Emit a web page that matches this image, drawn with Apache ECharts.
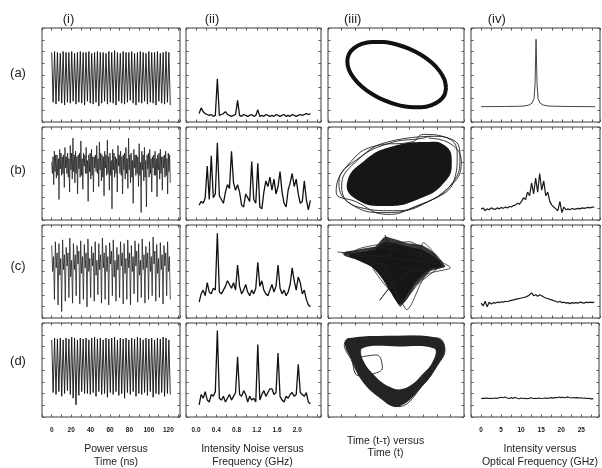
<!DOCTYPE html>
<html><head><meta charset="utf-8">
<script src="https://cdn.jsdelivr.net/npm/echarts@6/dist/echarts.min.js"></script>
<style>html,body{margin:0;padding:0;background:#fff}#c{width:602px;height:468px;will-change:transform}</style>
</head><body><div id="c"></div>
<script>
// ---------- column headers / row labels / titles ----------
const colHeads = ['(i)', '(ii)', '(iii)', '(iv)'];
const rowHeads = ['(a)', '(b)', '(c)', '(d)'];
const colTitles = [
  ['Power versus', 'Time (ns)'],
  ['Intensity Noise versus', 'Frequency (GHz)'],
  ['Time (t-τ) versus', 'Time (t)'],
  ['Intensity versus', 'Optical Frequency (GHz)']
];
const timeTicks = [0, 20, 40, 60, 80, 100, 120];
const rfTicks = ['0.0', '0.4', '0.8', '1.2', '1.6', '2.0'];
const optTicks = [0, 5, 10, 15, 20, 25];

// ---------- column (i): power vs time, sampled over 0..122 ns ----------
const timeSpan = 122;
const powA = [74,21,75,19,74,22,73,20,75,18, 74,21,74,20,75,22,73,19,74,21, 75,20,74,18,74,22,75,20,73,19,
  74,21,75,17,74,20,74,22,73,19, 75,21,74,20,76,18,74,22,73,20, 75,19,74,21,74,23,75,20,73,18,
  74,21,75,20,74,22,73,19,75,21, 74,20,74,18,75,22,73,20,74,19, 75,21,74,18];
const powB = [62,50,68,38, 74,52,70,45, 70,48,66,22, 76,55,72,48, 68,50,70,35, 78,56,68,50, 72,46,66,30, 80,54,72,44,
  88,52,70,40, 74,50,68,28, 70,55,72,46, 85,48,66,33, 72,58,70,50, 78,50,64,20, 70,52,72,44, 76,48,68,30,
  68,56,70,52, 80,50,66,36, 84,54,72,42, 70,46,68,26, 74,56,70,48, 86,50,68,32, 72,48,64,12, 76,54,72,46,
  68,50,66,30, 80,58,70,50, 74,48,68,28, 70,54,72,44, 78,50,66,34, 88,54,70,40, 72,46,64,18, 76,56,70,48,
  70,50,68,36, 82,48,62,8, 74,54,70,42, 78,46,64,14, 70,55,72,46, 76,50,66,30, 68,56,70,48, 74,48,66,25,
  70,54,72,44, 76,50,68,32, 68,56,70,46, 74,48,66,28, 72,52,70,40];
const powC = [78,50,66,20, 82,54,70,14, 80,46,64,7, 84,52,68,18, 76,56,70,22, 86,44,62,16, 80,52,68,24, 78,58,72,15,
  83,48,66,20, 79,54,70,12, 85,50,64,22, 77,56,70,18, 82,46,62,25, 80,52,68,16, 86,54,70,20, 78,50,66,14,
  81,58,72,24, 84,44,62,18, 76,52,68,22, 82,56,70,15, 80,48,64,20, 84,54,70,14, 78,50,66,26, 83,56,72,17,
  80,46,62,22, 85,52,68,16, 77,54,70,20, 82,50,66,24, 87,58,72,18, 79,48,64,22, 81,52,68,15, 78,56,70,24,
  82,50,66,20];
const powD = [82,26,84,24,83,27,84,22,82,25, 84,28,83,24,85,20,84,13,82,23, 84,27,83,25,84,25,82,24,84,26,
  85,22,83,27,84,24,82,25,84,21, 83,26,84,24,85,27,82,23,84,25, 83,20,84,26,82,24,84,27,83,22,
  85,25,84,24,82,26,84,23,83,27, 84,21,82,25,84,24,83,26,85,22, 84,25,82,24];

// ---------- column (ii): intensity noise, 0.06 GHz + 0.04 GHz steps ----------
const rfStart = 0.06, rfStep = 0.04;
const rfA = [9,15,11,9,8,7,8,6,7,46, 7,8,9,11,8,7,6,7,8,23, 7,6,8,7,6,7,8,6,7,13,
  6,7,6,8,7,6,7,6,8,7, 6,7,8,6,7,6,8,7,6,7, 8,7,8,9,8,9];
const rfB = [16,20,18,24,58,22,69,24,28,83, 26,22,18,30,38,34,74,40,32,38, 30,16,14,28,24,20,63,22,18,61,
  14,12,30,42,36,46,32,44,28,36, 52,30,18,14,32,40,50,36,44,28, 18,20,42,22,11,21];
const rfC = [17,26,30,24,38,28,26,32,30,91, 28,26,30,34,40,36,32,38,30,57, 34,26,30,36,28,24,30,26,32,60,
  34,40,30,26,24,30,36,28,34,57, 32,26,30,24,28,36,54,40,30,44, 38,26,30,20,14,12];
const rfD = [13,24,20,27,18,16,24,22,27,92, 20,18,22,16,20,24,18,22,26,64, 24,22,28,24,16,22,18,20,16,77,
  18,24,28,22,26,30,30,24,26,68, 22,18,16,22,20,24,26,22,24,56, 26,24,22,26,16,14];

// ---------- column (iii): delay-embedding portraits (t, t-τ), 0..100 units ----------
const ringAx = [86.8,85.6,81.9,76.2,68.65,59.9,50.5,41.1,32.35,24.8,19.1,15.4,14.2,15.4,19.1,24.8,32.35,41.1,50.5,59.9,68.65,76.2,81.9,85.6,86.8];
const ringAy = [36.5,45.3,54.4,63.2,71.2,77.8,82.5,85.0,85.2,83.0,78.6,72.3,64.5,55.7,46.6,37.8,29.8,23.2,18.5,16.0,15.8,18.0,22.4,28.7,36.5];
const coreBx = [73,47,27,14,21,42,66,86,91,86];
const coreBy = [84,79,64,40,22,15,22,41,64,80];
const loopBx = [76,47,24,8,17,42,69,91,97,92,76, 70,44,20,10,22,48,74,93,95,88,70, 62,36,14,6,20,44,60,88,98,90,74];
const loopBy = [90,85,68,40,17,8,17,39,68,86,90, 88,82,62,36,14,10,20,44,70,88,92, 84,80,58,30,20,6,12,34,62,82,88];
const hullCx = [12.5,34.6,41.9,59.1,68.9,78.7,86,76.2,71.3,64,56.6,52.9,46.8,41.9,34.6,22.3,11.3];
const hullCy = [71.3,76.7,87.4,80.3,78.5,69.6,55.2,51.6,44.4,33.7,17.5,12.2,26.5,40.9,55.2,62.4,67.7];
const coreCx = [16,34,42,58,68,78,84,74,68,62,56,52,46,40,33,22,16];
const coreCy = [69,73,82,77,74,66,56,52,44,34,20,15,28,42,54,62,66];
const traceCx = [7,40,60,86,70,50,42,48,30,56,64,78,70,66,44,38,52,12,36,80,90,72,58,50,34,20,46,62,84,66,54,44,28,60,74,64,48,40,10];
const traceCy = [71,66,62,56,50,58,89,70,64,18,40,68,81,60,30,19,50,68,76,62,54,46,9,30,58,72,80,72,60,36,16,48,70,82,64,50,40,60,70];
const outerDx = [14.9,46.8,81.1,86,79.9,71.3,51.7,37,24.8,17.4,12.5];
const outerDy = [83.7,86.2,83.7,71.3,53.5,35.9,11,21.6,39.4,60.6,76.6];
const innerDx = [25,52,78,78,69,55,44,33,26];
const innerDy = [73,75,73,62,44,30,33,46,60];
const loopDx = [15,47,81,86,80,71,52,37,25,17,12,15, 24,52,78,82,70,56,46,30,24,24, 18,36,40,22,18];
const loopDy = [83,86,84,71,54,36,11,22,39,61,77,83, 80,80,78,66,46,26,24,46,66,80, 62,66,52,44,62];

// ---------- column (iv): optical spectra ----------
const optAfreq = [0,3,6,9,10.6,11.8,12.6,13.1,13.35,13.6,13.85,14.1,14.6,15.4,16.6,19,22,25,28.2];
const optAval  = [16.3,16.4,16.5,16.7,17,18,20,25,40,88,40,25,20,18,17,16.7,16.5,16.4,16.3];
const optStep = 0.5;
const optB = [11.5,13,10,12,11,13,12,11.5,13,12, 13.5,12.5,14,13,14.5,14,15.5,16,18,17,
  20,24,22,30,26,40,28,45,30,50, 32,42,26,30,20,16,14,12,10,20, 8,14,11,12,11,12.5,11.5,12,12.5,12,
  13,12.5,13,13.5,13,14,13.5];
const optC = [16,13,18,12,17,15,16.5,16,17,16.5, 17.5,17,18,17.5,18.5,19,19.5,20,20.5,21,
  21.5,22,22.5,23.5,25,27,24,25,23.5,25, 24,22.5,21.5,21,20,19.5,18.5,18,17,18, 16.5,17,16,16.5,15.5,16.5,16,16.5,16,17,
  16.5,16,17,16.5,17,16.5,17];
const optD = [19.5,20,19.8,20.3,19.6,20,19.7,20.2,19.8,20.5, 21,20.4,21.2,20.2,19.6,20.6,19.8,20.9,20,19.5,
  20.2,19.7,20,19.4,19.8,20.4,19.6,20,19.7,20.3, 19.6,19.9,20.3,19.8,20.2,20.6,20.1,20.8,20.4,21.3,
  20.6,21,20.5,21.4,20.7,20.2,20.8,20.3,20.6,20.2, 20.4,19.9,20.1,19.6,19.8,19.3,19.5];

// ---------- layout ----------
const colBox = [[42,138],[186,135],[328,136],[471,129]];
const rowBox = [[28,94],[127,93],[225,93],[323,94]];
const xRange = [[-10,132,10],[-0.2,2.47,0.2],[0,100,10],[-2.5,29.43,2.5]];
const FONT = '"Liberation Sans", Arial, sans-serif';

const labelFmt = [
  v => { const r = Math.round(v); return timeTicks.indexOf(r) >= 0 && Math.abs(v - r) < 1e-6 ? String(r) : ''; },
  v => { const s = (Math.round(v * 10) / 10).toFixed(1); return Math.abs(v - parseFloat(s)) < 1e-6 && rfTicks.indexOf(s) >= 0 ? s : ''; },
  v => '',
  v => { const r = Math.round(v * 10) / 10; return Math.abs(v - r) < 1e-6 && optTicks.indexOf(r) >= 0 ? String(r) : ''; }
];

const grid = [], xAxis = [], yAxis = [], series = [];
function tick() { return { show: true, inside: true, length: 2.5, lineStyle: { color: '#555', width: 1 } }; }
function noLine() { return { show: false, onZero: false }; }

for (let r = 0; r < 4; r++) {
  for (let c = 0; c < 4; c++) {
    const gi = r * 4 + c;
    grid.push({ left: colBox[c][0], top: rowBox[r][0], width: colBox[c][1], height: rowBox[r][1],
      show: true, borderColor: '#3a3a3a', borderWidth: 1, backgroundColor: 'rgba(0,0,0,0)' });
    const [mn, mx, iv] = xRange[c];
    xAxis.push({ gridIndex: gi, type: 'value', position: 'bottom', min: mn, max: mx, interval: iv,
      axisLine: noLine(), axisTick: tick(), splitLine: { show: false },
      axisLabel: { show: r === 3 && c !== 2, interval: 0, formatter: labelFmt[c], fontSize: 6.5, fontWeight: 'bold',
        color: '#222', margin: 9, fontFamily: FONT, showMinLabel: true, showMaxLabel: true } });
    xAxis.push({ gridIndex: gi, type: 'value', position: 'top', min: mn, max: mx, interval: iv,
      axisLine: noLine(), axisTick: tick(), splitLine: { show: false }, axisLabel: { show: false } });
    yAxis.push({ gridIndex: gi, type: 'value', position: 'left', min: 0, max: 100, interval: 12.5,
      axisLine: noLine(), axisTick: tick(), splitLine: { show: false }, axisLabel: { show: false } });
    yAxis.push({ gridIndex: gi, type: 'value', position: 'right', min: 0, max: 100, interval: 12.5,
      axisLine: noLine(), axisTick: tick(), splitLine: { show: false }, axisLabel: { show: false } });
  }
}

function ax(gi) { return { xAxisIndex: gi * 2, yAxisIndex: gi * 2 }; }
function lineS(gi, data, width, color, smooth) {
  return Object.assign({ type: 'line', data, symbol: 'none', showSymbol: false, silent: true,
    smooth: smooth || false, lineStyle: { width, color }, z: 3 }, ax(gi));
}
function timeData(arr) { return arr.map((v, i) => [i * timeSpan / (arr.length - 1), v]); }
function rfData(arr) { return arr.map((v, i) => [rfStart + i * rfStep, v]); }
function optData(arr) { return arr.map((v, i) => [i * optStep, v]); }
function xyData(xs, ys) { return xs.map((x, i) => [x, ys[i]]); }
function polyS(gi, xs, ys, fill, smooth, z) {
  return Object.assign({ type: 'custom', silent: true, z: z || 2, data: [[xs[0], ys[0]]],
    renderItem: (p, api) => ({ type: 'polygon',
      shape: { points: xs.map((x, i) => api.coord([x, ys[i]])), smooth: smooth || 0 },
      style: { fill } }) }, ax(gi));
}

// column (i)
series.push(lineS(0, timeData(powA), 0.9, '#111'));
series.push(lineS(4, timeData(powB), 0.75, '#1a1a1a'));
series.push(lineS(8, timeData(powC), 0.75, '#1a1a1a'));
series.push(lineS(12, timeData(powD), 0.9, '#111'));
// column (ii)
[rfA, rfB, rfC, rfD].forEach((arr, r) => series.push(lineS(r * 4 + 1, rfData(arr), 1.3, '#111')));
// column (iii)
series.push(lineS(2, xyData(ringAx, ringAy), 4, '#111', 0.3));
series.push(polyS(6, coreBx, coreBy, '#161616', 0.5));
series.push(lineS(6, xyData(loopBx, loopBy), 0.9, '#222', 0.5));
series.push(polyS(10, hullCx, hullCy, '#3a3a3a', 0.15, 2));
series.push(polyS(10, coreCx, coreCy, '#161616', 0.2, 2.2));
series.push(lineS(10, xyData(traceCx, traceCy), 0.8, '#222', 0.25));
series.push(polyS(14, outerDx, outerDy, '#242424', 0.4, 2));
series.push(polyS(14, innerDx, innerDy, '#ffffff', 0.4, 2.5));
series.push(lineS(14, xyData(loopDx, loopDy), 0.9, '#222', 0.4));
// column (iv)
series.push(lineS(3, xyData(optAfreq, optAval), 1, '#444'));
series.push(lineS(7, optData(optB), 1.2, '#1a1a1a'));
series.push(lineS(11, optData(optC), 1.2, '#1a1a1a'));
series.push(lineS(15, optData(optD), 1.1, '#1a1a1a'));

// ---------- texts ----------
const headX = [68.5, 212, 352.7, 496.7];
const rowY = [72, 169, 265, 360];
const titleX = [116, 252.5, 385.5, 540];
const titleY = [[448, 461], [448, 461], [440, 452], [448, 461]];
const graphic = [];
function txt(text, x, y, size) {
  return { type: 'text', silent: true, x, y,
    style: { text, fill: '#222', font: size + 'px ' + FONT, textAlign: 'center', textVerticalAlign: 'middle' } };
}
colHeads.forEach((t, i) => graphic.push(txt(t, headX[i], 18, 13)));
rowHeads.forEach((t, i) => graphic.push(txt(t, 18, rowY[i], 13)));
colTitles.forEach((pair, i) => {
  graphic.push(txt(pair[0], titleX[i], titleY[i][0], 10.5));
  graphic.push(txt(pair[1], titleX[i], titleY[i][1], 10.5));
});

const chart = echarts.init(document.getElementById('c'), null, { renderer: 'svg' });
chart.setOption({ animation: false, backgroundColor: 'transparent', grid, xAxis, yAxis, series, graphic });
</script></body></html>
